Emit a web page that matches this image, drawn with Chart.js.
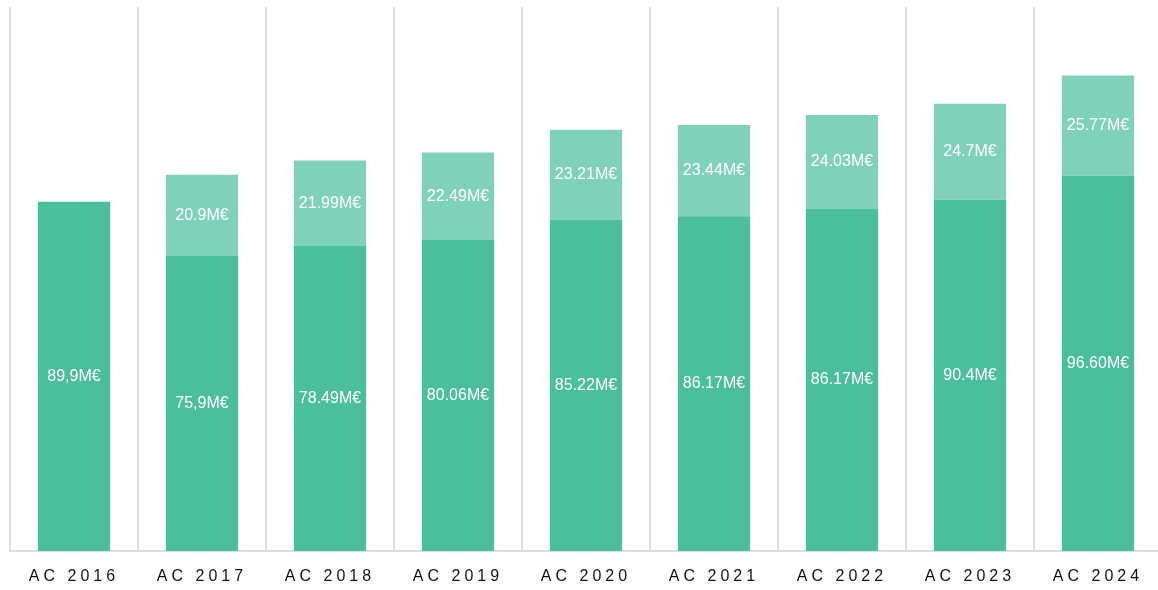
<!DOCTYPE html>
<html>
<head>
<meta charset="utf-8">
<script src="https://cdn.jsdelivr.net/npm/chart.js@4"></script>
<style>
  html, body { margin: 0; padding: 0; background: #fff; overflow: hidden; }
  #wrap { width: 1162px; height: 590px; }
</style>
</head>
<body>
<div id="wrap"><canvas id="grafico-barras"></canvas></div>
<script>
// Categorias e valores
let anos = ["AC 2016", "AC 2017", "AC 2018", "AC 2019", "AC 2020", "AC 2021", "AC 2022", "AC 2023", "AC 2024"];
// 2022: a barra no gráfico original está mais alta que o rótulo indica (~88.17)
let valoresBase = [89.9, 75.9, 78.49, 80.06, 85.22, 86.17, 88.17, 90.4, 96.60];
let valoresExtra = [null, 20.9, 21.99, 22.49, 23.21, 23.44, 24.03, 24.7, 25.77];
let rotulosBase = ["89,9M€", "75,9M€", "78.49M€", "80.06M€", "85.22M€", "86.17M€", "86.17M€", "90.4M€", "96.60M€"];
let rotulosExtra = ["", "20.9M€", "21.99M€", "22.49M€", "23.21M€", "23.44M€", "24.03M€", "24.7M€", "25.77M€"];

// Plugin simples para escrever os valores no meio das barras
const pluginRotulos = {
    id: "rotulos",
    afterDatasetsDraw(chart) {
        const ctx = chart.ctx;
        const textos = [rotulosBase, rotulosExtra];
        ctx.save();
        ctx.letterSpacing = "0px";
        ctx.font = "16px 'Liberation Sans', Arial, sans-serif";
        ctx.fillStyle = "#ffffff";
        ctx.textAlign = "center";
        ctx.textBaseline = "middle";
        chart.data.datasets.forEach((ds, d) => {
            chart.getDatasetMeta(d).data.forEach((bar, i) => {
                if (ds.data[i] == null) return;
                const meio = (bar.y + bar.base) / 2;
                ctx.fillText(textos[d][i], bar.x, meio);
            });
        });
        ctx.restore();
    }
};

// Espaçamento entre letras dos anos
const pluginEspaco = {
    id: "espaco",
    beforeDraw(chart) { chart.ctx.letterSpacing = "4px"; }
};

let dadosBarras = {
    labels: anos,
    datasets: [{
        label: "base",
        data: valoresBase,
        backgroundColor: "#4bbe9c"
    }, {
        label: "extra",
        data: valoresExtra,
        backgroundColor: "#7fd1b9"
    }]
};

const configBarras = {
    type: "bar",
    data: dadosBarras,
    options: {
        responsive: true,
        maintainAspectRatio: false,
        animation: false,
        layout: { padding: { left: 10, right: 0, top: 7, bottom: 0 } },
        datasets: { bar: { categoryPercentage: 1, barPercentage: 0.565 } },
        scales: {
            x: {
                stacked: true,
                grid: { color: "#dedede", lineWidth: 2, drawTicks: false },
                border: { color: "#dedede", width: 2 },
                ticks: {
                    color: "#111",
                    padding: 16,
                    font: { family: "'Liberation Sans', Arial, sans-serif", size: 16 }
                },
                afterFit(scale) { scale.height = 39; }
            },
            y: {
                stacked: true,
                display: false,
                min: 0,
                max: 140
            }
        },
        plugins: {
            legend: { display: false },
            tooltip: { enabled: false }
        }
    },
    plugins: [pluginEspaco, pluginRotulos]
};

let myChartBarras = new Chart(document.getElementById("grafico-barras"), configBarras);
</script>
</body>
</html>
